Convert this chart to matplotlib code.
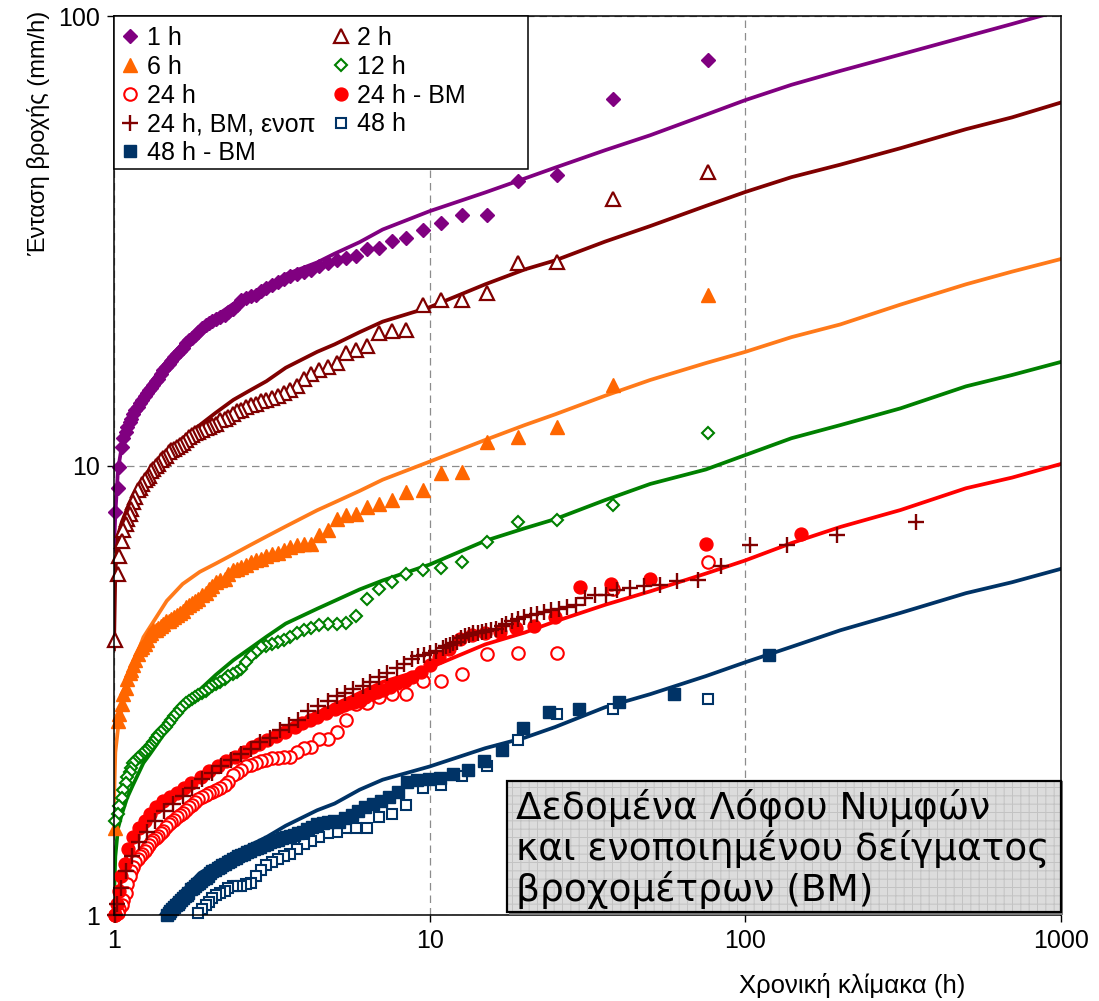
import matplotlib
matplotlib.use("Agg")
import matplotlib.pyplot as plt
from matplotlib.lines import Line2D
from matplotlib.patches import Rectangle
from matplotlib.ticker import FixedLocator, FixedFormatter, NullLocator

plt.rcParams['font.family'] = ['Liberation Sans', 'DejaVu Sans']
plt.rcParams['hatch.linewidth'] = 0.7

# ---------------- data ----------------
# fitted curves (common abscissa)
X_LINE = [1.0, 1.01, 1.03, 1.06, 1.1, 1.15, 1.24, 1.3, 1.47, 1.65, 1.87, 2.1, 2.39, 2.7, 3.04,
          3.5, 4.4, 5.0, 6.0, 7.1, 10, 15, 20, 25, 36, 50, 75, 100, 140, 200, 310, 500, 700, 1000]
LINE_1H = [6.5, 7.8, 9.8, 11.1, 12.2, 13.1, 14.4, 15.2, 17.1, 18.7, 20.3, 21.5, 22.9, 24.0, 25.0,
           26.6, 28.3, 29.6, 31.4, 33.5, 36.8, 40.5, 43.5, 46.0, 50.3, 54.3, 60.3, 65.0, 70.3,
           75.5, 82.1, 90.0, 96.0, 103.0]
LINE_2H = [3.9, 5.8, 7.0, 7.5, 8.0, 8.5, 9.2, 9.6, 10.7, 11.5, 12.3, 13.1, 14.0, 14.7, 15.4,
           16.5, 17.9, 18.6, 19.8, 20.9, 22.5, 25.3, 27.3, 28.6, 31.5, 34.1, 37.8, 40.6, 43.8,
           46.7, 50.8, 56.0, 59.5, 64.2]
LINE_6H = [1.75, 2.3, 2.6, 2.9, 3.25, 3.6, 4.15, 4.37, 5.0, 5.45, 5.8, 6.05, 6.35, 6.65, 6.95,
           7.32, 7.95, 8.28, 8.78, 9.3, 10.2, 11.4, 12.3, 13.0, 14.3, 15.5, 16.9, 17.9, 19.3,
           20.6, 22.8, 25.3, 27.0, 28.8]
LINE_12H = [1.08, 1.35, 1.56, 1.68, 1.82, 1.95, 2.18, 2.28, 2.58, 2.85, 3.17, 3.42, 3.69, 3.92,
            4.16, 4.45, 4.8, 5.0, 5.3, 5.55, 6.02, 6.8, 7.25, 7.6, 8.38, 9.1, 9.8, 10.55, 11.5,
            12.3, 13.4, 15.0, 15.9, 17.0]
LINE_24H = [0.85, 0.95, 1.12, 1.25, 1.36, 1.45, 1.6, 1.66, 1.80, 1.9, 2.0, 2.1, 2.21, 2.33, 2.45,
            2.6, 2.82, 2.93, 3.12, 3.3, 3.55, 4.0, 4.25, 4.5, 4.9, 5.25, 5.75, 6.15, 6.72, 7.3,
            7.96, 8.9, 9.4, 10.08]
LINE_48H = [0.55, 0.58, 0.62, 0.68, 0.74, 0.8, 0.88, 0.93, 1.04, 1.13, 1.24, 1.3, 1.37, 1.43,
            1.49, 1.58, 1.71, 1.77, 1.9, 2.0, 2.14, 2.35, 2.48, 2.62, 2.9, 3.1, 3.4, 3.65, 3.95,
            4.3, 4.7, 5.2, 5.5, 5.89]

# empirical points (return periods of the 75-year record)
T76 = [76, 38, 25.3, 19, 15.2, 12.7, 10.9, 9.5, 8.44, 7.6, 6.9, 6.33, 5.85, 5.43, 5.07,
       4.75, 4.47, 4.22, 4.0, 3.8, 3.62, 3.45, 3.3, 3.17, 3.04, 2.92, 2.81, 2.71, 2.62, 2.53,
       2.45, 2.38, 2.3, 2.24, 2.17, 2.11, 2.05, 2.0, 1.95, 1.9, 1.85, 1.81, 1.77, 1.73, 1.69,
       1.65, 1.62, 1.58, 1.55, 1.52, 1.49, 1.46, 1.43, 1.41, 1.38, 1.36, 1.33, 1.31, 1.29, 1.27,
       1.25, 1.23, 1.21, 1.19, 1.17, 1.15, 1.13, 1.12, 1.1, 1.09, 1.07, 1.06, 1.04, 1.03, 1.01]
P_1H = [80, 65.5, 44.3, 42.9, 36.0, 36.0, 34.6, 33.5, 32.0, 31.6, 30.5, 30.3, 29.2, 29.0, 28.6,
        28.2, 27.8, 27.2, 27.0, 26.7, 26.4, 26.0, 25.6, 25.2, 24.8, 24.4, 24.0, 23.8, 23.6, 23.4,
        22.8, 22.3, 21.9, 21.6, 21.4, 21.2, 21.0, 20.8, 20.5, 20.2, 19.8, 19.5, 19.2, 19.0, 18.7,
        18.3, 18.0, 17.7, 17.4, 17.1, 16.8, 16.6, 16.3, 16.0, 15.6, 15.4, 15.1, 14.9, 14.7, 14.5,
        14.3, 14.0, 13.8, 13.5, 13.3, 13.0, 12.7, 12.5, 12.2, 11.9, 11.5, 11.0, 9.9, 8.9, 7.9]
P_2H = [45.0, 39.2, 28.4, 28.2, 24.2, 23.4, 23.4, 22.7, 20.0, 19.9, 19.7, 18.4, 18.1, 17.8, 16.9,
        16.6, 16.3, 16.0, 15.6, 15.0, 14.7, 14.5, 14.3, 14.1, 14.0, 13.9, 13.7, 13.6, 13.5, 13.3,
        13.2, 13.0, 12.8, 12.7, 12.6, 12.4, 12.3, 12.2, 12.1, 12.0, 11.9, 11.8, 11.7, 11.6, 11.4,
        11.2, 11.1, 11.0, 10.9, 10.8, 10.7, 10.5, 10.4, 10.3, 10.1, 10.0, 9.8, 9.7, 9.5, 9.4,
        9.3, 9.1, 8.9, 8.8, 8.5, 8.3, 8.0, 7.8, 7.6, 7.4, 7.2, 6.8, 6.3, 5.75, 4.1]
P_6H = [23.9, 15.1, 12.2, 11.55, 11.3, 9.69, 9.6, 8.82, 8.74, 8.4, 8.2, 8.1, 7.8, 7.75, 7.6,
        7.2, 7.0, 6.7, 6.7, 6.65, 6.6, 6.5, 6.4, 6.35, 6.3, 6.2, 6.15, 6.1, 6.0, 5.95,
        5.9, 5.85, 5.75, 5.6, 5.55, 5.5, 5.4, 5.3, 5.2, 5.15, 5.05, 5.0, 4.95, 4.9, 4.85,
        4.75, 4.7, 4.65, 4.6, 4.55, 4.5, 4.5, 4.45, 4.4, 4.35, 4.3, 4.3, 4.25, 4.2, 4.1,
        4.0, 3.95, 3.9, 3.8, 3.7, 3.6, 3.5, 3.45, 3.35, 3.2, 3.1, 2.95, 2.8, 2.7, 1.56]
P_12H = [11.8, 8.15, 7.58, 7.5, 6.77, 6.11, 5.93, 5.87, 5.75, 5.5, 5.3, 5.05, 4.62, 4.46, 4.44,
         4.44, 4.42, 4.34, 4.3, 4.25, 4.15, 4.1, 4.05, 4.0, 3.97, 3.95, 3.85, 3.76, 3.65, 3.52,
         3.48, 3.44, 3.4, 3.35, 3.3, 3.27, 3.23, 3.2, 3.15, 3.12, 3.08, 3.05, 3.02, 3.0, 2.96,
         2.92, 2.88, 2.82, 2.77, 2.72, 2.67, 2.62, 2.58, 2.55, 2.51, 2.48, 2.43, 2.39, 2.36, 2.33,
         2.3, 2.28, 2.25, 2.23, 2.2, 2.18, 2.12, 2.08, 2.03, 1.97, 1.9, 1.82, 1.75, 1.68, 1.62]
P_24H = [6.1, 5.3, 3.83, 3.83, 3.8, 3.43, 3.32, 3.32, 3.1, 3.1, 3.06, 2.96, 2.94, 2.72, 2.56,
         2.46, 2.46, 2.36, 2.35, 2.3, 2.25, 2.25, 2.24, 2.23, 2.21, 2.2, 2.18, 2.16, 2.14, 2.1,
         2.07, 2.05, 1.98, 1.95, 1.92, 1.9, 1.88, 1.87, 1.85, 1.83, 1.81, 1.78, 1.76, 1.74, 1.71,
         1.69, 1.67, 1.65, 1.63, 1.61, 1.59, 1.57, 1.54, 1.52, 1.5, 1.48, 1.47, 1.45, 1.43, 1.41,
         1.39, 1.37, 1.35, 1.33, 1.31, 1.28, 1.25, 1.22, 1.17, 1.12, 1.08, 1.05, 1.03, 1.01, 1.0]
T48 = T76[:41]
P_48H = [3.02, 2.88, 2.8, 2.45, 2.14, 2.04, 1.95, 1.92, 1.76, 1.68, 1.65, 1.56, 1.56, 1.56, 1.53,
         1.52, 1.49, 1.46, 1.44, 1.4, 1.37, 1.35, 1.33, 1.31, 1.29, 1.26, 1.22, 1.18, 1.17, 1.16,
         1.16, 1.16, 1.15, 1.13, 1.12, 1.11, 1.09, 1.07, 1.05, 1.03, 1.01]

# rain-gauge (BM) samples
T_24BM = [150, 75, 50, 37.5, 30, 25, 21.4, 18.75, 16.7, 15, 13.6, 12.5, 11.5, 10.7, 10, 9.38,
          8.82, 8.33, 7.89, 7.5, 7.14, 6.82, 6.52, 6.25, 6.0, 5.77, 5.56, 5.36, 5.17, 5.0,
          4.69, 4.41, 4.17, 3.95, 3.75, 3.49, 3.26, 3.06, 2.88, 2.73, 2.59, 2.42, 2.27, 2.14,
          2.0, 1.88, 1.76, 1.67, 1.58, 1.5, 1.43, 1.36, 1.3, 1.25, 1.2, 1.15, 1.11, 1.08,
          1.056, 1.034, 1.02, 1.007]
P_24BM = [7.03, 6.68, 5.59, 5.44, 5.37, 4.61, 4.39, 4.34, 4.27, 4.23, 4.2, 4.12, 3.9, 3.75, 3.6,
          3.48, 3.39, 3.32, 3.28, 3.22, 3.16, 3.13, 3.1, 3.06, 3.0, 2.98, 2.96, 2.93, 2.9, 2.87,
          2.82, 2.76, 2.72, 2.67, 2.62, 2.56, 2.5, 2.45, 2.4, 2.36, 2.31, 2.25, 2.2, 2.15,
          2.09, 2.03, 1.97, 1.92, 1.87, 1.83, 1.79, 1.74, 1.68, 1.62, 1.56, 1.49, 1.4, 1.3,
          1.22, 1.13, 1.06, 1.0]
T_ENOP = [348, 195, 135.5, 103.7, 84, 70.7, 60.9, 53.6, 47.8, 43.1, 39.3, 36.1, 33.4, 31.0,
          29.0, 27.2, 25.7, 24.2, 23.0, 21.9, 20.9, 19.9, 19.1, 18.3, 17.5, 16.9, 16.2, 15.7,
          15.1, 14.6, 14.2, 13.7, 13.3, 12.9, 12.6, 12.2, 11.9, 11.6, 11.3, 11.0, 10.5, 10.0,
          9.57, 9.18, 8.81, 8.32, 7.87, 7.35, 6.89, 6.49, 6.13, 5.73, 5.39, 5.08, 4.75, 4.42,
          4.13, 3.84, 3.59, 3.35, 3.11, 2.91, 2.71, 2.53, 2.35, 2.19, 2.04, 1.9, 1.77, 1.65,
          1.54, 1.44, 1.35, 1.27, 1.2, 1.14, 1.09, 1.054, 1.025, 1.006]
P_ENOP = [7.5, 7.0, 6.66, 6.66, 5.98, 5.56, 5.54, 5.42, 5.4, 5.33, 5.28, 5.16, 5.14, 5.06,
          4.9, 4.85, 4.8, 4.77, 4.72, 4.68, 4.65, 4.6, 4.56, 4.5, 4.45, 4.4, 4.33, 4.3,
          4.28, 4.26, 4.24, 4.23, 4.2, 4.17, 4.14, 4.05, 4.02, 3.99, 3.96, 3.93, 3.87, 3.82,
          3.79, 3.76, 3.72, 3.62, 3.54, 3.46, 3.38, 3.3, 3.24, 3.19, 3.12, 3.07, 3.0, 2.92,
          2.84, 2.72, 2.65, 2.58, 2.48, 2.42, 2.34, 2.28, 2.21, 2.14, 2.07, 2.01, 1.92, 1.84,
          1.77, 1.7, 1.62, 1.53, 1.45, 1.35, 1.25, 1.15, 1.06, 1.0]
T_48BM = [119, 59.5, 39.7, 29.75, 23.8, 19.8, 17.0, 14.9, 13.2, 11.9, 10.8, 9.92, 9.15, 8.5,
          7.93, 7.44, 7.0, 6.61, 6.26, 5.95, 5.67, 5.41, 5.17, 4.96, 4.76, 4.58, 4.41, 4.25,
          4.1, 3.97, 3.84, 3.72, 3.61, 3.5, 3.4, 3.31, 3.22, 3.13, 3.05, 2.98, 2.9, 2.83,
          2.77, 2.7, 2.64, 2.59, 2.53, 2.48, 2.43, 2.38, 2.33, 2.29, 2.25, 2.2, 2.16, 2.13,
          2.09, 2.05, 2.02, 1.98, 1.95, 1.92, 1.89, 1.86, 1.83, 1.8, 1.78, 1.75, 1.72, 1.7,
          1.68, 1.65, 1.63, 1.61, 1.59, 1.57, 1.55, 1.53, 1.51, 1.49, 1.47]
P_48BM = [3.79, 3.1, 2.98, 2.88, 2.83, 2.6, 2.33, 2.2, 2.1, 2.06, 2.02, 2.01, 2.0, 1.98,
          1.88, 1.83, 1.79, 1.77, 1.74, 1.7, 1.67, 1.64, 1.61, 1.62, 1.61, 1.6, 1.59, 1.57,
          1.55, 1.53, 1.52, 1.51, 1.5, 1.49, 1.48, 1.47, 1.46, 1.45, 1.44, 1.43, 1.42, 1.41,
          1.4, 1.39, 1.38, 1.37, 1.36, 1.35, 1.34, 1.33, 1.32, 1.31, 1.3, 1.29, 1.28, 1.27,
          1.26, 1.25, 1.24, 1.22, 1.21, 1.2, 1.19, 1.18, 1.17, 1.16, 1.15, 1.14, 1.12, 1.11,
          1.1, 1.09, 1.08, 1.07, 1.06, 1.05, 1.04, 1.03, 1.02, 1.01, 1.0]

X_TICKS = [1, 10, 100, 1000]
Y_TICKS = [1, 10, 100]
LABELS = ["1 h", "2 h", "6 h", "12 h", "24 h", "24 h - BM", "24 h, BM, ενοπ", "48 h", "48 h - BM"]
BOX_TEXT = "Δεδομένα Λόφου Νυμφών\nκαι ενοποιημένου δείγματος\nβροχομέτρων (BM)"

# ---------------- styles ----------------
PURPLE, MAROON, ORANGE, GREEN, RED, NAVY = "#800080", "#800000", "#FF6600", "#008000", "#FF0000", "#003366"

fig = plt.figure(figsize=(10.99, 10.01), dpi=100)
ax = fig.add_axes([0.1037, 0.0859, 0.8617, 0.8981])
ax.set_xscale('log')
ax.set_yscale('log')
ax.set_xlim(1, 1000)
ax.set_ylim(1, 100)

for yv, c in [(LINE_1H, PURPLE), (LINE_2H, MAROON), (LINE_6H, "#FF7A1A"),
              (LINE_12H, GREEN), (LINE_24H, RED), (LINE_48H, NAVY)]:
    ax.plot(X_LINE, yv, color=c, lw=2.7, zorder=2, solid_joinstyle='round')

series = [
    (T76, P_1H, dict(marker='D', ms=7.3, mfc=PURPLE, mec=PURPLE, mew=1.0)),
    (T76, P_2H, dict(marker='^', ms=10.5, mfc='white', mec=MAROON, mew=1.6)),
    (T76, P_6H, dict(marker='^', ms=10.5, mfc=ORANGE, mec=ORANGE, mew=1.0)),
    (T76, P_12H, dict(marker='D', ms=6.5, mfc='white', mec=GREEN, mew=1.5)),
    (T76, P_24H, dict(marker='o', ms=9.0, mfc='white', mec=RED, mew=1.5)),
    (T_24BM, P_24BM, dict(marker='o', ms=9.3, mfc=RED, mec=RED, mew=1.0)),
    (T_ENOP, P_ENOP, dict(marker='+', ms=11, mfc=MAROON, mec=MAROON, mew=1.7)),
    (T48, P_48H, dict(marker='s', ms=7.4, mfc='white', mec=NAVY, mew=1.5)),
    (T_48BM, P_48BM, dict(marker='s', ms=8.3, mfc=NAVY, mec=NAVY, mew=1.0)),
]
handles = []
for (xs, ys, st), lab in zip(series, LABELS):
    ax.plot(xs, ys, ls='none', zorder=3, clip_on=False, **st)
    handles.append(Line2D([], [], ls='none', label=lab, **st))

# axes cosmetics
ax.xaxis.set_major_locator(FixedLocator(X_TICKS))
ax.xaxis.set_major_formatter(FixedFormatter([str(v) for v in X_TICKS]))
ax.yaxis.set_major_locator(FixedLocator(Y_TICKS))
ax.yaxis.set_major_formatter(FixedFormatter([str(v) for v in Y_TICKS]))
ax.xaxis.set_minor_locator(NullLocator())
ax.yaxis.set_minor_locator(NullLocator())
ax.tick_params(axis='both', which='major', direction='out', length=5, width=1,
               labelsize=18, pad=5)
ax.grid(True, which='major', color='#8c8c8c', ls=(0, (6, 4)), lw=0.9)
ax.set_axisbelow(True)
for s in ax.spines.values():
    s.set_linewidth(1.1)
    s.set_zorder(4)

ax.set_ylabel("Ένταση βροχής (mm/h)", fontsize=17)
ax.yaxis.set_label_coords(-0.068, 0.87)
ax.set_xlabel("Χρονική κλίμακα (h)", fontsize=18.5)
ax.xaxis.set_label_coords(0.78, -0.064)

# legend: row-wise order in two columns
order = [0, 2, 4, 6, 8, 1, 3, 5, 7]
ax.add_patch(Rectangle((0, 0.8298), 0.437, 0.1702, transform=ax.transAxes,
                       facecolor='white', edgecolor='black', lw=1.1, zorder=5, clip_on=False))
leg = ax.legend([handles[i] for i in order], [LABELS[i] for i in order],
                loc='upper left', bbox_to_anchor=(0, 1 - 3.5 / 899), ncol=2, frameon=False,
                borderaxespad=0, fontsize=18, handlelength=0.8, handletextpad=0.25,
                columnspacing=0.62, labelspacing=0.19, borderpad=0.26)
leg.set_zorder(6)

# annotation box
ax.add_patch(Rectangle((0.417, 0.0), 0.585, 0.149, transform=ax.transAxes,
                       facecolor='#7f7f7f', edgecolor='none', zorder=6.9, clip_on=False))
ax.add_patch(Rectangle((0.415, 0.003), 0.585, 0.146, transform=ax.transAxes,
                       facecolor='#dcdcdc', edgecolor='#c3c3c3', hatch='++', lw=0,
                       zorder=7, clip_on=False))
ax.add_patch(Rectangle((0.415, 0.003), 0.585, 0.146, transform=ax.transAxes,
                       fill=False, edgecolor='black', lw=1.6, zorder=7.1, clip_on=False))
ax.text(0.4245, 0.0735, BOX_TEXT, transform=ax.transAxes, ha='left', va='center',
        fontsize=27, family=['DejaVu Sans'], linespacing=1.09, zorder=8)

fig.savefig("out.png", dpi=100)
